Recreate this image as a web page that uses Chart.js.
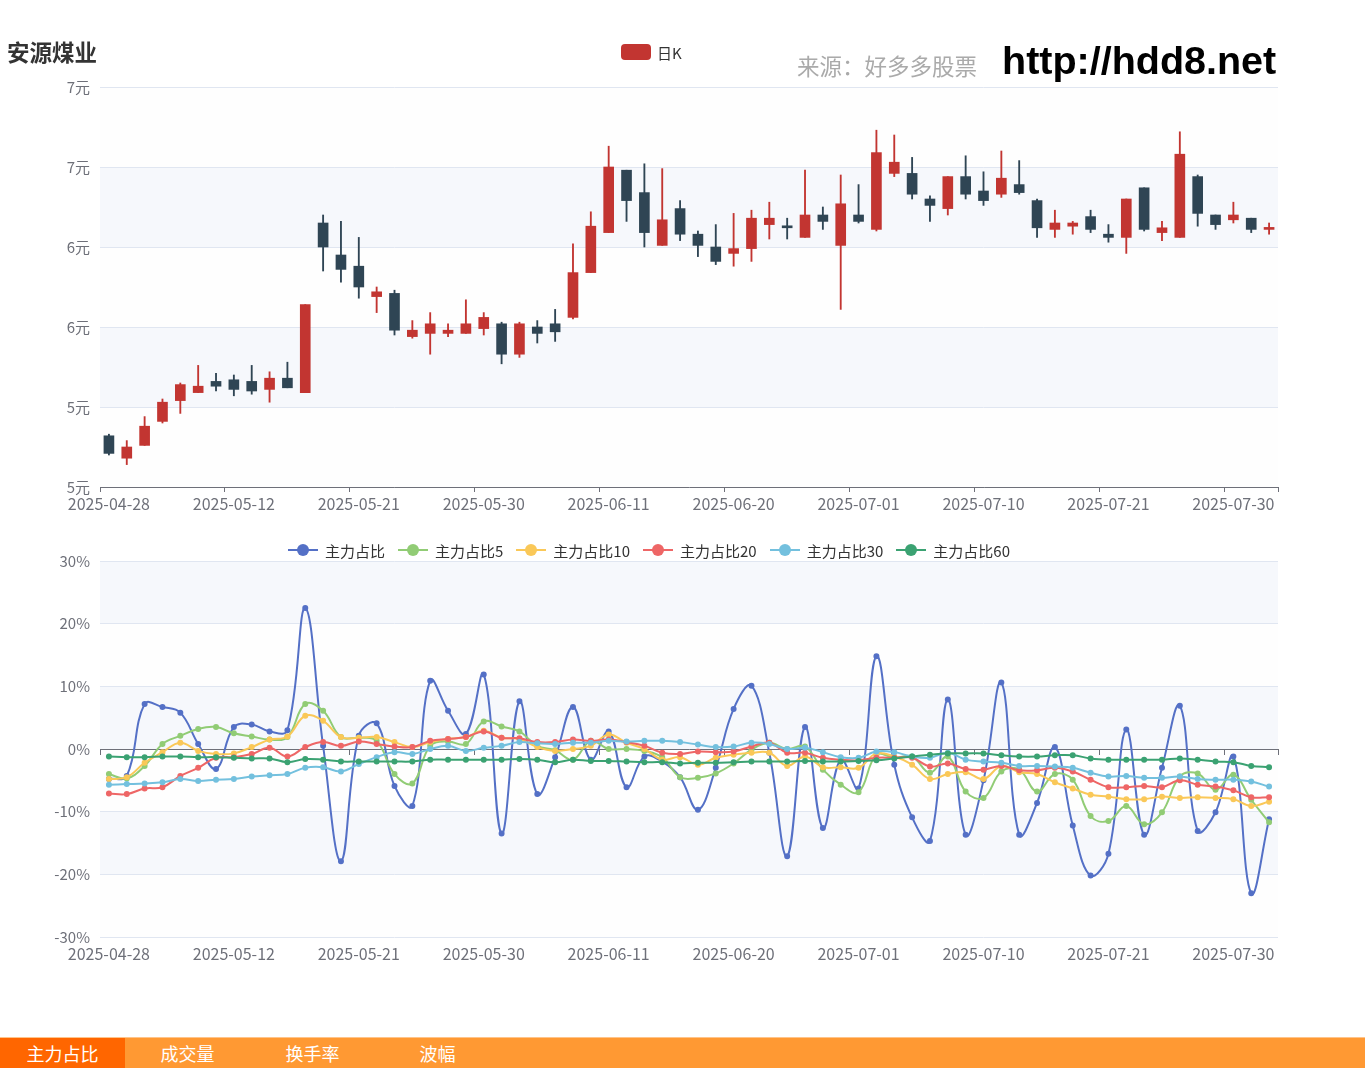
<!DOCTYPE html>
<html><head><meta charset="utf-8">
<script src="https://cdn.jsdelivr.net/npm/chart.js"></script>
<style>
body{margin:0;background:#fff;width:1365px;height:1082px;position:relative;overflow:hidden;font-family:'Noto Sans CJK SC',sans-serif;}
.abs{position:absolute;white-space:nowrap;}
#c1wrap{position:absolute;left:0;top:0;width:1365px;height:530px;}
#c2wrap{position:absolute;left:0;top:530px;width:1365px;height:450px;}
#title{left:7px;top:38px;font-size:22.5px;line-height:26px;font-weight:bold;color:#333;}
#src{left:797px;top:51px;font-size:22.5px;line-height:28px;color:#aaa;}
#url{left:1002px;top:37px;font-size:39.5px;line-height:46px;font-weight:bold;color:#000;font-family:'Liberation Sans',Arial,sans-serif;}
#leg1{left:621px;top:43px;display:flex;align-items:center;font-size:15px;color:#333;height:18px;}
#leg1 .r{width:30px;height:16px;border-radius:4px;background:#c23531;margin-right:6px;}
#leg2{left:288px;top:541px;display:flex;align-items:center;font-size:15px;color:#333;height:18px;}
.it{display:flex;align-items:center;margin-right:13px;}
.ico{position:relative;width:30px;height:18px;margin-right:7px;}
.ico:before{content:'';position:absolute;left:0;right:0;top:8px;height:2px;background:var(--c);}
.ico:after{content:'';position:absolute;left:9px;top:3px;width:12px;height:12px;border-radius:50%;background:var(--c);}
#tabs{left:0;top:1037px;width:1365px;height:30px;background:#ff9933;border-top:1px solid #ffc48a;display:flex;}
#tabs div{width:125px;text-align:center;color:#fff;font-size:18px;line-height:30px;}
#tabs div.on{background:#ff6600;}
</style></head>
<body>
<div id="c1wrap"><canvas id="c1"></canvas></div>
<div id="c2wrap"><canvas id="c2"></canvas></div>
<div class="abs" id="title">安源煤业</div>
<div class="abs" id="leg1"><div class="r"></div><span>日K</span></div>
<div class="abs" id="src">来源：好多多股票</div>
<div class="abs" id="url">http://hdd8.net</div>
<div class="abs" id="leg2"></div>
<div class="abs" id="tabs"><div class="on">主力占比</div><div>成交量</div><div>换手率</div><div>波幅</div></div>
<script>
const dates = ['2025-04-28','2025-04-29','2025-04-30','2025-05-06','2025-05-07','2025-05-08','2025-05-09','2025-05-12','2025-05-13','2025-05-14','2025-05-15','2025-05-16','2025-05-19','2025-05-20','2025-05-21','2025-05-22','2025-05-23','2025-05-26','2025-05-27','2025-05-28','2025-05-29','2025-05-30','2025-06-03','2025-06-04','2025-06-05','2025-06-06','2025-06-09','2025-06-10','2025-06-11','2025-06-12','2025-06-13','2025-06-16','2025-06-17','2025-06-18','2025-06-19','2025-06-20','2025-06-23','2025-06-24','2025-06-25','2025-06-26','2025-06-27','2025-06-30','2025-07-01','2025-07-02','2025-07-03','2025-07-04','2025-07-07','2025-07-08','2025-07-09','2025-07-10','2025-07-11','2025-07-14','2025-07-15','2025-07-16','2025-07-17','2025-07-18','2025-07-21','2025-07-22','2025-07-23','2025-07-24','2025-07-25','2025-07-28','2025-07-29','2025-07-30','2025-07-31','2025-08-01'];
const opens  = [5.32,5.18,5.26,5.41,5.54,5.59,5.66,5.67,5.66,5.61,5.68,5.59,6.65,6.45,6.38,6.19,6.21,5.94,5.96,5.96,5.96,5.99,6.02,5.83,6.00,6.02,6.06,6.34,6.59,6.98,6.84,6.51,6.74,6.58,6.50,6.46,6.49,6.64,6.63,6.56,6.70,6.51,6.70,6.61,6.96,6.96,6.80,6.74,6.94,6.85,6.83,6.89,6.79,6.61,6.63,6.69,6.58,6.56,6.87,6.59,6.56,6.94,6.70,6.67,6.68,6.61];
const closes = [5.21,5.25,5.38,5.53,5.64,5.63,5.63,5.61,5.60,5.68,5.62,6.14,6.50,6.36,6.25,6.22,5.98,5.98,6.02,5.98,6.02,6.06,5.83,6.02,5.96,5.97,6.34,6.63,7.00,6.79,6.59,6.67,6.58,6.51,6.41,6.49,6.68,6.68,6.62,6.70,6.66,6.77,6.66,7.09,7.03,6.83,6.76,6.94,6.83,6.79,6.93,6.84,6.62,6.65,6.65,6.61,6.56,6.80,6.61,6.62,7.08,6.71,6.64,6.70,6.61,6.62];
const highs  = [5.33,5.29,5.44,5.55,5.65,5.76,5.71,5.70,5.76,5.72,5.78,6.14,6.70,6.66,6.56,6.25,6.23,6.04,6.09,6.02,6.17,6.09,6.03,6.03,6.04,6.11,6.52,6.72,7.13,6.98,7.02,6.99,6.79,6.60,6.64,6.71,6.73,6.78,6.68,6.98,6.75,6.95,6.89,7.23,7.20,7.06,6.82,6.94,7.07,6.97,7.10,7.04,6.80,6.73,6.66,6.73,6.64,6.80,6.87,6.66,7.22,6.95,6.70,6.78,6.68,6.65];
const lows   = [5.20,5.14,5.26,5.40,5.46,5.59,5.60,5.57,5.58,5.53,5.62,5.59,6.35,6.28,6.18,6.09,5.95,5.93,5.83,5.94,5.96,5.95,5.77,5.81,5.90,5.91,6.05,6.34,6.59,6.66,6.50,6.51,6.54,6.44,6.39,6.38,6.41,6.55,6.55,6.56,6.61,6.11,6.65,6.60,6.94,6.80,6.66,6.70,6.80,6.76,6.81,6.83,6.56,6.56,6.58,6.59,6.53,6.46,6.60,6.54,6.56,6.63,6.61,6.65,6.59,6.58];
const priceTickLabels = ['5元','5元','6元','6元','7元','7元'];
const pctTickLabels = ['-30%','-20%','-10%','0%','10%','20%','30%'];

const seriesNames = ['主力占比','主力占比5','主力占比10','主力占比20','主力占比30','主力占比60'];
const seriesColors = ['#5470c6','#91cc75','#fac858','#ee6666','#73c0de','#3ba272'];
const zl   = [-4.8,-4.3,7.2,6.7,5.8,0.8,-3.2,3.5,3.9,2.8,3.0,22.5,0.5,-17.9,2.1,4.1,-5.9,-9.1,10.9,6.1,2.4,11.9,-13.5,7.6,-7.2,-1.3,6.7,-1.7,2.8,-6.1,-1.2,-2.0,-4.5,-9.7,-3.0,6.4,10.1,-0.6,-17.1,3.5,-12.6,-1.7,-6.3,14.8,-2.5,-10.9,-14.7,7.9,-13.7,-5.0,10.6,-13.7,-8.6,0.3,-12.2,-20.2,-16.7,3.1,-13.7,-3.0,6.9,-13.1,-10.1,-1.2,-23.0,-11.2];
const zl5  = [-4.0,-4.7,-2.7,0.8,2.1,3.2,3.5,2.5,2.0,1.5,1.9,7.2,6.1,1.9,1.8,1.3,-4.0,-5.5,0.5,1.2,0.8,4.4,3.6,2.8,0.5,-0.2,-1.7,1.3,0.0,0.0,-0.3,-1.3,-4.5,-4.6,-3.9,-2.3,-0.1,1.0,0.0,0.4,-3.3,-5.7,-6.9,-0.9,-1.4,-1.2,-3.8,-1.2,-6.8,-7.8,-3.6,-3.3,-6.8,-4.0,-4.9,-10.7,-11.5,-9.1,-12.0,-10.1,-4.4,-3.9,-6.5,-4.1,-8.1,-11.7];
const zl10 = [-4.8,-4.5,-2.2,-0.5,1.0,-0.3,-0.8,-0.7,0.3,1.5,2.0,5.3,4.5,1.9,1.8,1.9,1.1,0.3,1.1,1.6,1.9,2.9,1.8,1.6,0.3,-0.3,0.0,0.5,2.3,1.0,0.0,-1.7,-1.3,-2.5,-1.4,-0.9,-0.6,-0.6,-2.7,-1.2,-2.9,-2.9,-3.0,-0.7,-1.2,-2.5,-4.8,-4.0,-3.7,-4.8,-2.7,-3.7,-4.0,-5.3,-6.3,-7.3,-7.6,-8.0,-8.0,-7.6,-7.8,-7.7,-7.8,-8.0,-9.1,-8.4];
const zl20 = [-7.1,-7.2,-6.3,-6.1,-4.3,-3.0,-1.4,-1.3,-0.8,0.2,-1.2,0.3,1.1,0.5,1.2,0.8,0.4,0.3,1.3,1.6,1.9,2.8,1.8,1.7,1.1,1.1,1.5,1.3,1.5,1.1,0.5,-0.6,-0.8,-0.4,-0.5,-0.4,0.4,1.0,-0.6,-0.6,-1.4,-1.7,-1.8,-1.4,-1.4,-1.4,-2.8,-2.3,-3.2,-3.3,-2.7,-3.4,-3.4,-3.0,-3.6,-4.9,-6.1,-6.1,-5.9,-6.1,-5.0,-5.7,-6.0,-6.6,-7.7,-7.7];
const zl30 = [-5.7,-5.6,-5.5,-5.3,-4.8,-5.1,-4.9,-4.8,-4.4,-4.2,-4.0,-3.0,-2.9,-3.6,-2.4,-1.3,-0.5,-0.8,0.0,0.5,-0.3,0.2,0.5,1.1,0.9,0.8,1.0,1.0,1.3,1.2,1.3,1.3,1.1,0.7,0.3,0.4,1.0,0.8,0.0,0.2,-0.5,-1.3,-1.4,-0.4,-0.5,-1.2,-1.4,-0.6,-1.7,-2.0,-2.2,-2.7,-2.7,-2.8,-3.0,-3.8,-4.4,-4.3,-4.6,-4.6,-4.4,-4.8,-4.9,-4.9,-5.2,-6.0];
const zl60 = [-1.2,-1.3,-1.3,-1.2,-1.2,-1.3,-1.3,-1.4,-1.5,-1.5,-2.1,-1.6,-1.7,-2.0,-2.0,-2.0,-2.0,-2.0,-1.7,-1.7,-1.7,-1.7,-1.7,-1.6,-1.7,-2.1,-1.7,-1.9,-1.9,-2.0,-2.1,-2.1,-2.3,-2.2,-2.2,-2.1,-2.0,-2.0,-2.0,-1.9,-2.0,-2.0,-1.9,-1.8,-1.5,-1.2,-0.9,-0.7,-0.7,-0.7,-1.0,-1.2,-1.2,-1.0,-1.0,-1.5,-1.7,-1.7,-1.7,-1.7,-1.5,-1.7,-2.0,-2.1,-2.7,-2.9];
const seriesData = [zl, zl5, zl10, zl20, zl30, zl60];

const UP = '#c23531', DOWN = '#2f4554';
const AXIS = '#6e7079', GRID = '#e0e6f1';
Chart.defaults.font.family = "'Noto Sans CJK SC', sans-serif";

const leg2 = document.getElementById('leg2');
seriesNames.forEach((n, i) => {
  const it = document.createElement('div'); it.className = 'it';
  const ic = document.createElement('div'); ic.className = 'ico'; ic.style.setProperty('--c', seriesColors[i]);
  const t = document.createElement('span'); t.textContent = n;
  it.appendChild(ic); it.appendChild(t); leg2.appendChild(it);
});

const splitArea = {
  id: 'splitArea',
  beforeDraw(chart) {
    const {ctx, chartArea: {left, right}, scales: {y}} = chart;
    const t = y.ticks;
    ctx.save();
    for (let k = 0; k < t.length - 1; k++) {
      const y0 = y.getPixelForValue(t[k].value), y1 = y.getPixelForValue(t[k + 1].value);
      ctx.fillStyle = (k % 2 === 1) ? '#f6f8fc' : '#fefefe';
      ctx.fillRect(left, y1, right - left, y0 - y1);
    }
    ctx.restore();
  }
};

const tickEvery7 = ctx => (ctx.index === undefined || ctx.index % 7 === 0) ? AXIS : 'rgba(0,0,0,0)';
const xTicks = {autoSkip: false, maxRotation: 0, minRotation: 0, padding: 2, color: AXIS, font: {size: 16}, callback: (v, i) => (i % 7 === 0 ? dates[i] : '')};

const candleColors = closes.map((c, i) => c >= opens[i] ? UP : DOWN);

new Chart(document.getElementById('c1'), {
  type: 'bar',
  data: {
    labels: dates,
    datasets: [
      {label: 'wick', data: lows.map((l, i) => [l, highs[i]]), backgroundColor: candleColors, barThickness: 1.2, grouped: false, order: 1},
      {label: '日K', data: opens.map((o, i) => [o, closes[i]]), backgroundColor: candleColors, borderColor: candleColors, borderWidth: 0, barThickness: 10, minBarLength: 2, grouped: false, order: 0}
    ]
  },
  options: {
    responsive: true, maintainAspectRatio: false, animation: false,
    layout: {padding: {left: 0, right: 87, top: 87, bottom: 0}},
    plugins: {legend: {display: false}, tooltip: {enabled: false}},
    scales: {
      x: {offset: true, grid: {offset: true, drawOnChartArea: false, drawTicks: true, tickLength: 5, tickColor: tickEvery7}, border: {display: true, color: AXIS}, ticks: xTicks, afterFit: s => { s.height = 43; }},
      y: {min: 5, max: 7.5, ticks: {stepSize: 0.5, padding: 10, color: AXIS, font: {size: 15}, callback: (v, i) => priceTickLabels[i]}, grid: {color: GRID, drawTicks: false}, border: {display: false}, afterFit: s => { s.width = 100; }}
    }
  },
  plugins: [splitArea]
});

new Chart(document.getElementById('c2'), {
  type: 'line',
  data: {
    labels: dates,
    datasets: seriesNames.map((n, i) => ({
      label: n, data: seriesData[i], borderColor: seriesColors[i], backgroundColor: seriesColors[i],
      pointBackgroundColor: seriesColors[i], pointBorderColor: seriesColors[i], pointRadius: 2, borderWidth: 2,
      tension: 0.4, fill: false, order: seriesNames.length - 1 - i
    }))
  },
  options: {
    responsive: true, maintainAspectRatio: false, animation: false,
    layout: {padding: {left: 0, right: 87, top: 31, bottom: 0}},
    plugins: {legend: {display: false}, tooltip: {enabled: false}},
    scales: {
      x: {offset: true, grid: {offset: true, drawOnChartArea: false, drawTicks: true, tickLength: 5, tickColor: 'rgba(0,0,0,0)'}, border: {display: false}, ticks: xTicks, afterFit: s => { s.height = 43; }},
      x2: {axis: 'x', type: 'category', position: {y: 0}, offset: true, grid: {offset: true, drawOnChartArea: false, drawTicks: true, tickLength: 5, tickColor: tickEvery7}, border: {display: true, color: AXIS}, ticks: {display: false}},
      y: {min: -30, max: 30, ticks: {stepSize: 10, padding: 10, color: AXIS, font: {size: 15}, callback: (v, i) => pctTickLabels[i]}, grid: {color: GRID, drawTicks: false}, border: {display: false}, afterFit: s => { s.width = 100; }}
    }
  },
  plugins: [splitArea]
});
</script>
</body></html>
